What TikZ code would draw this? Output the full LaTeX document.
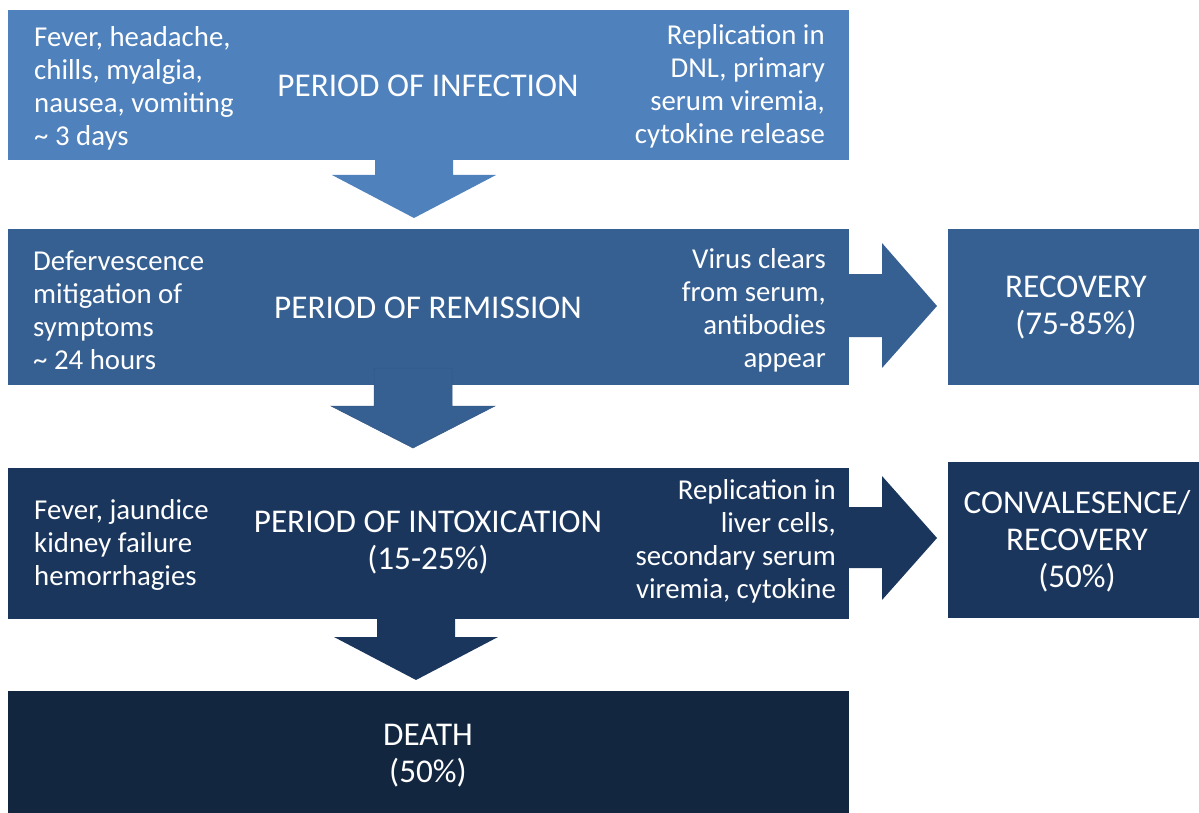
\documentclass[tikz,border=0pt]{standalone}
\usepackage{fontspec}
\setmainfont{Carlito}
\definecolor{cA}{HTML}{4F81BD}
\definecolor{cB}{HTML}{376092}
\definecolor{cC}{HTML}{1A365D}
\definecolor{cD}{HTML}{13263F}
\begin{document}
\begin{tikzpicture}[x=1pt,y=-1pt,
  box/.style={rectangle, fill=#1, draw=none, inner sep=0pt, outer sep=0pt, anchor=north west},
  side/.style={text=white, font=\fontsize{28.8}{33}\selectfont, inner sep=0pt},
  ttl/.style={text=white, font=\fontsize{33.2}{37}\selectfont, align=center, inner sep=0pt}]
\useasboundingbox (0,0) rectangle (1199,813);
% boxes
\node[box=cA, minimum width=841pt, minimum height=150pt] (b1) at (8,10) {};
\node[box=cB, minimum width=841pt, minimum height=156pt] (b2) at (8,229) {};
\node[box=cC, minimum width=841pt, minimum height=151pt] (b3) at (8,468) {};
\node[box=cD, minimum width=841pt, minimum height=122pt] (b4) at (8,691) {};
\node[box=cB, minimum width=251pt, minimum height=156pt] (rec) at (948,229) {};
\node[box=cC, minimum width=251pt, minimum height=156pt] (conv) at (948,462) {};
% block arrows
\coordinate (d1) at (414,218);
\coordinate (d2) at (413,448);
\coordinate (d3) at (416,680);
\coordinate (r1) at (937,306);
\coordinate (r2) at (937,538);
\fill[cA] (375,0 |- b1.south) -- (375,175) -- (332,175) -- (d1) -- (496,175) -- (453,175) -- (453,0 |- b1.south) -- cycle;
\filldraw[fill=cB, draw=cB!90!black, line width=0.5pt] (374,368) -- (374,406) -- (331,406) -- (d2) -- (495,406) -- (452,406) -- (452,368) -- cycle;
\fill[cC] (377,0 |- b3.south) -- (377,637) -- (334,637) -- (d3) -- (498,637) -- (455,637) -- (455,0 |- b3.south) -- cycle;
\fill[cB] (b2.east |- 0,274) -- (882,274) -- (882,243) -- (r1) -- (882,368) -- (882,337) -- (b2.east |- 0,337) -- cycle;
\fill[cC] (b3.east |- 0,507) -- (882,507) -- (882,476) -- (r2) -- (882,600) -- (882,568) -- (b3.east |- 0,568) -- cycle;
% texts
\node[side, anchor=west, align=left] (t1l) at (34,88) {Fever, headache,\\chills, myalgia,\\nausea, vomiting\\\textasciitilde{} 3 days};
\node[ttl] (t1) at (428,86) {PERIOD OF INFECTION};
\node[side, anchor=east, align=right] (t1r) at (825,86) {Replication in\\DNL, primary\\serum viremia,\\cytokine release};
\node[side, anchor=west, align=left] (t2l) at (33,310) {Defervescence\\mitigation of\\symptoms\\\textasciitilde{} 24 hours};
\node[ttl] (t2) at (428,308) {PERIOD OF REMISSION};
\node[side, anchor=east, align=right] (t2r) at (826,310) {Virus clears\\from serum,\\antibodies\\appear};
\node[ttl] (trec) at (1076,308) {RECOVERY\\(75-85\%)};
\node[side, anchor=west, align=left] (t3l) at (34,545) {Fever, jaundice\\kidney failure\\hemorrhagies};
\node[ttl] (t3) at (428,543) {PERIOD OF INTOXICATION\\(15-25\%)};
\node[side, anchor=east, align=right] (t3r) at (836,541) {Replication in\\liver cells,\\secondary serum\\viremia, cytokine};
\node[ttl] (tconv) at (1077,541) {CONVALESENCE/\\RECOVERY\\(50\%)};
\node[ttl] (t4) at (428,756) {DEATH\\(50\%)};
\end{tikzpicture}
\end{document}
